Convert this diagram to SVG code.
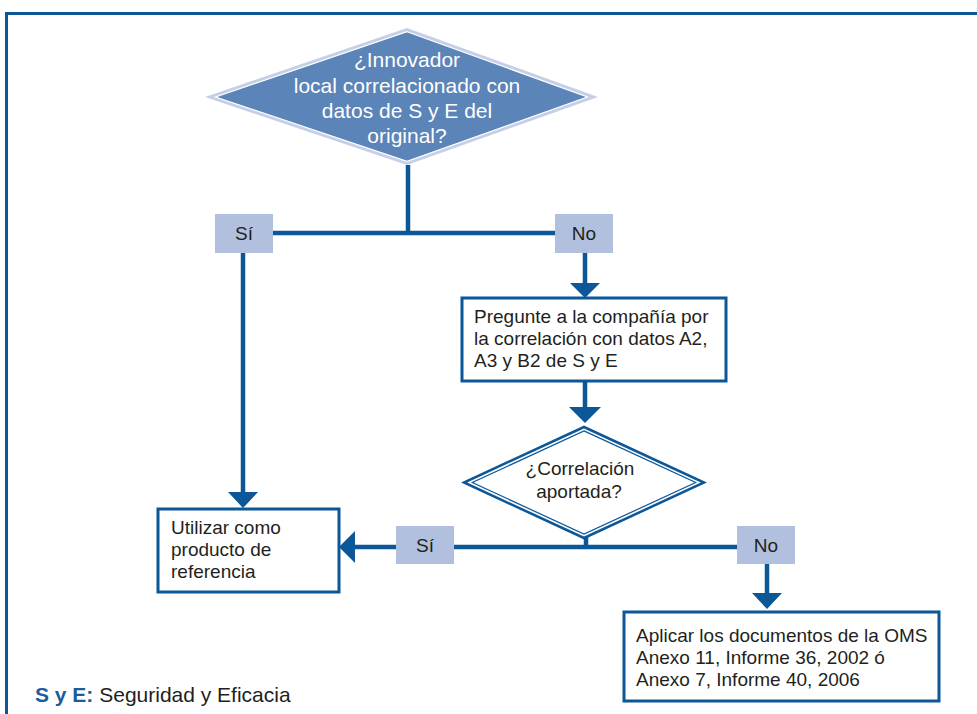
<svg xmlns="http://www.w3.org/2000/svg" width="977" height="714" viewBox="0 0 977 714">
<defs>
<style>
.ln{stroke:#0b5797;stroke-width:4.5;fill:none}
.ah{fill:#0b5797}
.lbl{fill:#b0c0de}
.box{fill:#fff;stroke:#0b5797;stroke-width:3}
.t{font-family:"Liberation Sans",Arial,sans-serif;font-size:19px;fill:#231f20}
.tc{font-family:"Liberation Sans",Arial,sans-serif;font-size:19px;fill:#231f20;text-anchor:middle}
.tw{font-family:"Liberation Sans",Arial,sans-serif;font-size:21px;fill:#fff;text-anchor:middle}
.lg{font-family:"Liberation Sans",Arial,sans-serif;font-size:21px;fill:#231f20}
</style>
</defs>
<rect width="977" height="714" fill="#fff"/>
<g id="frame">
<path d="M6.5 714 V13.5 H977" fill="none" stroke="#0b5797" stroke-width="3"/>
</g>
<g id="connectors">
<path class="ln" d="M408 165 V233"/>
<path class="ln" d="M273 233 H555"/>
<path class="ln" d="M243 253 V493"/>
<polygon class="ah" points="228,492 258,492 243,508"/>
<path class="ln" d="M585 253 V284"/>
<polygon class="ah" points="570,283 600,283 585,298"/>
<path class="ln" d="M585 381 V408"/>
<polygon class="ah" points="569,407 601,407 585,423"/>
<path class="ln" d="M586 537 V547"/>
<path class="ln" d="M454 547 H737"/>
<path class="ln" d="M396 547 H354"/>
<polygon class="ah" points="355,531 355,563 339,547"/>
<path class="ln" d="M767 564 V594"/>
<polygon class="ah" points="752,593 782,593 767,609"/>
</g>
<g id="decision1">
<polygon points="407,28 598,97 407,165 205,97" fill="#c5d0e6"/>
<polygon points="407,31.7 587.4,97 407,161.3 215.6,97" fill="#5b84b8" stroke="#fff" stroke-width="1.2"/>
<text class="tw" x="407" y="67">¿Innovador</text>
<text class="tw" x="407" y="93">local correlacionado con</text>
<text class="tw" x="407" y="118">datos de S y E del</text>
<text class="tw" x="407" y="143">original?</text>
</g>
<g id="label-si-1">
<rect class="lbl" x="215" y="214" width="58" height="39"/>
<text class="tc" x="244" y="240">Sí</text>
</g>
<g id="label-no-1">
<rect class="lbl" x="555" y="214" width="58" height="39"/>
<text class="tc" x="584" y="240">No</text>
</g>
<g id="box-pregunte">
<rect class="box" x="462" y="298" width="264" height="83"/>
<text class="t" x="474" y="323">Pregunte a la compañía por</text>
<text class="t" x="474" y="345">la correlación con datos A2,</text>
<text class="t" x="474" y="367">A3 y B2 de S y E</text>
</g>
<g id="decision2">
<polygon points="584,427 704,482.5 584,538 464,482.5" fill="#fff" stroke="#0b5797" stroke-width="2.5"/>
<polygon points="584,430.9 695.7,482.5 584,534.1 472.3,482.5" fill="none" stroke="#0b5797" stroke-width="1.2"/>
<text class="tc" x="580" y="475">¿Correlación</text>
<text class="tc" x="579" y="498">aportada?</text>
</g>
<g id="box-utilizar">
<rect class="box" x="158" y="509" width="181" height="83"/>
<text class="t" x="171" y="534">Utilizar como</text>
<text class="t" x="171" y="556">producto de</text>
<text class="t" x="171" y="578">referencia</text>
</g>
<g id="label-si-2">
<rect class="lbl" x="396" y="526" width="58" height="38"/>
<text class="tc" x="425" y="552">Sí</text>
</g>
<g id="label-no-2">
<rect class="lbl" x="737" y="526" width="58" height="38"/>
<text class="tc" x="766" y="552">No</text>
</g>
<g id="box-aplicar">
<rect class="box" x="624" y="612" width="315" height="89"/>
<text class="t" x="636" y="642">Aplicar los documentos de la OMS</text>
<text class="t" x="636" y="664">Anexo 11, Informe 36, 2002 ó</text>
<text class="t" x="636" y="686">Anexo 7, Informe 40, 2006</text>
</g>
<g id="legend">
<text class="lg" x="35" y="702"><tspan font-weight="bold" fill="#1a5c9c">S y E:</tspan> Seguridad y Eficacia</text>
</g>
</svg>
